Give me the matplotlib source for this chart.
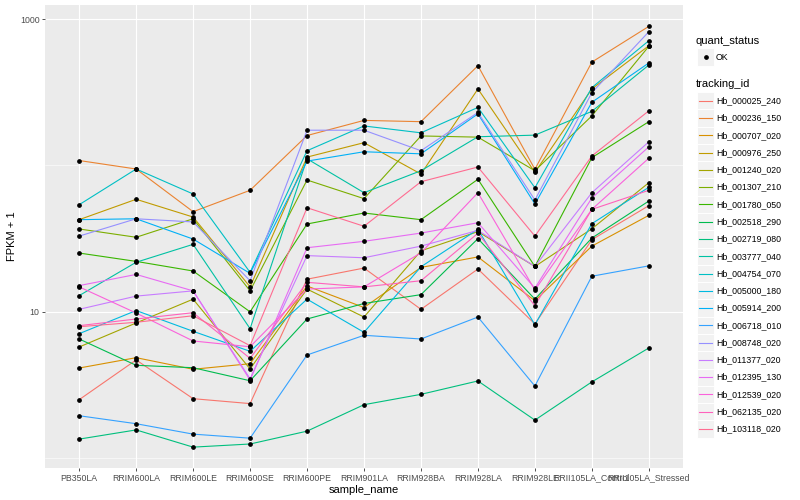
import matplotlib.pyplot as plt
from matplotlib.patches import Rectangle
from matplotlib.lines import Line2D
from matplotlib.ticker import FixedLocator, NullFormatter

plt.rcParams["font.family"] = ["Liberation Sans", "DejaVu Sans"]

samples = ["PB350LA", "RRIM600LA", "RRIM600LE", "RRIM600SE", "RRIM600PE",
           "RRIM901LA", "RRIM928BA", "RRIM928LA", "RRIM928LE",
           "RRII105LA_Control", "RRII105LA_Stressed"]

tracking_ids = ["Hb_000025_240", "Hb_000236_150", "Hb_000707_020", "Hb_000976_250",
                "Hb_001240_020", "Hb_001307_210", "Hb_001780_050", "Hb_002518_290",
                "Hb_002719_080", "Hb_003777_040", "Hb_004754_070", "Hb_005000_180",
                "Hb_005914_200", "Hb_006718_010", "Hb_008748_020", "Hb_011377_020",
                "Hb_012395_130", "Hb_012539_020", "Hb_062135_020", "Hb_103118_020"]

# ggplot hue palette, 20 levels
colors = ["#F8766D", "#EA8331", "#D89000", "#C09B00", "#A3A500", "#7CAE00",
          "#39B600", "#00BB4E", "#00BF7D", "#00C1A3", "#00BFC4", "#00BAE0",
          "#00B0F6", "#35A2FF", "#9590FF", "#C77CFF", "#E76BF3", "#FA62DB",
          "#FF62BC", "#FF6C91"]

# FPKM + 1 (one list per gene, in sample order)
hb_000025_240 = [2.51, 4.69, 2.55, 2.36, 16.7, 19.9, 10.4, 19.6, 8.26, 31.1, 53.1]
hb_000236_150 = [108, 94.5, 48.3, 67.6, 160, 203, 199, 480, 94.1, 508, 891]
hb_000707_020 = [4.13, 4.86, 4.05, 4.42, 15.0, 10.7, 20.1, 23.7, 11.9, 28.1, 45.6]
hb_000976_250 = [42.6, 58.7, 44.4, 14.8, 114, 143, 87.3, 333, 89.7, 333, 657]
hb_001240_020 = [5.75, 8.39, 12.2, 4.07, 14.3, 9.21, 26.1, 35.3, 20.4, 36.9, 76.2]
hb_001307_210 = [36.8, 32.3, 43.2, 13.9, 79.5, 59.3, 159, 156, 92.0, 218, 651]
hb_001780_050 = [25.2, 22.1, 19.0, 10.0, 39.8, 47.3, 42.6, 80.4, 20.4, 113, 199]
hb_002518_290 = [6.52, 4.31, 4.15, 3.38, 8.93, 11.4, 13.1, 31.6, 12.2, 31.9, 57.1]
hb_002719_080 = [1.35, 1.56, 1.19, 1.25, 1.53, 2.32, 2.73, 3.37, 1.82, 3.32, 5.66]
hb_003777_040 = [12.9, 21.8, 28.9, 7.67, 111, 65.1, 92.0, 157, 161, 234, 485]
hb_004754_070 = [53.9, 94.5, 63.8, 18.6, 126, 186, 167, 249, 70.4, 340, 711]
hb_005000_180 = [7.09, 10.2, 7.36, 5.37, 12.2, 7.24, 20.3, 36.6, 8.16, 40.0, 70.9]
hb_005914_200 = [42.6, 43.2, 31.4, 18.3, 107, 124, 120, 225, 54.5, 270, 501]
hb_006718_010 = [1.95, 1.72, 1.46, 1.37, 5.07, 6.91, 6.52, 9.21, 3.11, 17.5, 20.6]
hb_008748_020 = [32.9, 43.2, 41.1, 16.3, 174, 174, 126, 230, 58.0, 314, 819]
hb_011377_020 = [10.4, 12.8, 13.9, 3.49, 24.2, 23.4, 28.1, 36.0, 20.4, 65.1, 145]
hb_012395_130 = [15.1, 18.0, 13.9, 3.42, 27.4, 30.3, 34.5, 40.6, 14.5, 59.9, 134]
hb_012539_020 = [14.8, 9.81, 6.32, 5.77, 14.3, 14.8, 25.3, 65.1, 14.1, 50.1, 112]
hb_062135_020 = [8.04, 8.93, 9.86, 4.81, 15.9, 14.8, 16.3, 34.4, 11.0, 50.1, 67.6]
hb_103118_020 = [7.91, 8.48, 9.40, 5.87, 51.4, 38.4, 77.4, 97.5, 32.9, 116, 236]

series = [hb_000025_240, hb_000236_150, hb_000707_020, hb_000976_250, hb_001240_020,
          hb_001307_210, hb_001780_050, hb_002518_290, hb_002719_080, hb_003777_040,
          hb_004754_070, hb_005000_180, hb_005914_200, hb_006718_010, hb_008748_020,
          hb_011377_020, hb_012395_130, hb_012539_020, hb_062135_020, hb_103118_020]

W, H = 800, 500
fig = plt.figure(figsize=(W / 100, H / 100), dpi=100)
ax = fig.add_axes([45 / W, 32 / H, 638 / W, 463 / H])
ax.set_facecolor("#EBEBEB")

x = list(range(len(samples)))
for vals, col in zip(series, colors):
    ax.plot(x, vals, color=col, lw=0.8, zorder=2)
for vals in series:
    ax.plot(x, vals, "o", color="black", ms=2.4, zorder=3)

ax.set_yscale("log")
ax.set_ylim(0.857, 1247)
ax.set_xlim(-0.6, len(samples) - 0.4)
ax.yaxis.set_major_locator(FixedLocator([10, 1000]))
ax.yaxis.set_minor_locator(FixedLocator([1, 100]))
ax.yaxis.set_minor_formatter(NullFormatter())
ax.set_yticklabels(["10", "1000"])
ax.set_xticks(x)
ax.set_xticklabels(samples)

ax.grid(which="major", color="white", lw=0.8)
ax.grid(which="minor", axis="y", color="white", lw=0.4)
ax.set_axisbelow(True)
for s in ax.spines.values():
    s.set_visible(False)
ax.tick_params(which="major", length=2.5, width=0.6, color="#333333",
               labelsize=6.3, labelcolor="#4D4D4D", pad=1.5)
ax.tick_params(which="minor", length=0)

ax.set_xlabel("sample_name", fontsize=8, labelpad=2)
ax.set_ylabel("FPKM + 1", fontsize=8)
ax.yaxis.set_label_coords((17 - 45) / 638, 0.5)

# legend drawn by hand, ggplot style
def fx(px):
    return px / W


def fy(py):
    return 1 - py / H


key = 17.28
fig.text(fx(696), fy(40.7), "quant_status", fontsize=8, va="center")
fig.patches.append(Rectangle((fx(697), fy(57 + key / 2)), key / W, key / H,
                             transform=fig.transFigure, facecolor="#F2F2F2",
                             edgecolor="white", lw=0.7))
fig.lines.append(Line2D([fx(705.5)], [fy(57)], marker="o", ms=2.4, color="black",
                        transform=fig.transFigure))
fig.text(fx(716), fy(57), "OK", fontsize=6.3, va="center")

fig.text(fx(696), fy(84), "tracking_id", fontsize=8, va="center")
for i, (name, col) in enumerate(zip(tracking_ids, colors)):
    yc = 100.7 + i * key
    fig.patches.append(Rectangle((fx(697), fy(yc + key / 2)), key / W, key / H,
                                 transform=fig.transFigure, facecolor="#F2F2F2",
                                 edgecolor="white", lw=0.7))
    fig.lines.append(Line2D([fx(699), fx(712)], [fy(yc), fy(yc)], color=col, lw=0.8,
                            transform=fig.transFigure))
    fig.text(fx(716), fy(yc), name, fontsize=6.3, va="center")

fig.savefig("out.png", dpi=100)
